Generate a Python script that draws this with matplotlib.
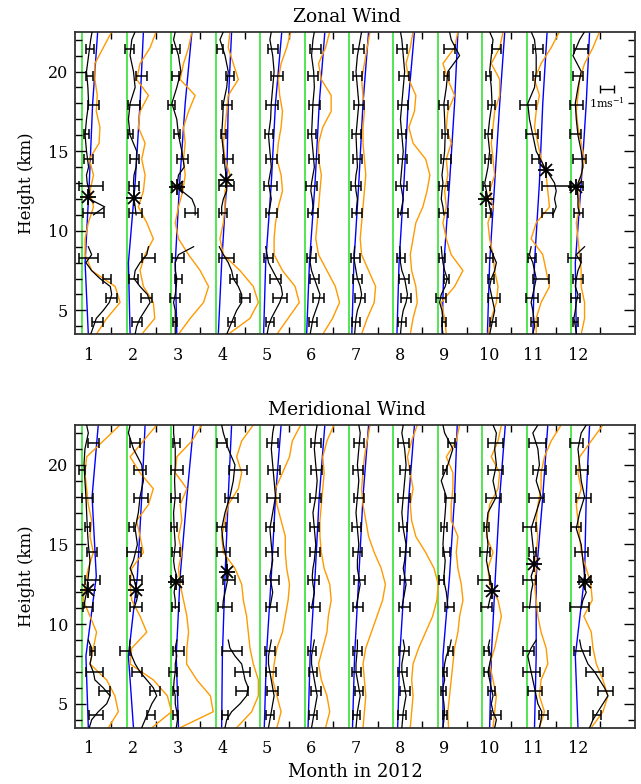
import numpy as np
import matplotlib
matplotlib.use('Agg')
import matplotlib.pyplot as plt

plt.rcParams['font.family'] = ['DejaVu Serif']
plt.rcParams['mathtext.fontset'] = 'dejavuserif'

MONTHS = list(range(1, 13))
MONTH_LABELS = [str(m) for m in MONTHS]
ERR_H = [4.3, 5.8, 7.0, 8.3, 11.1, 12.8, 14.5, 16.1, 17.9, 19.7, 21.4]
STRAT_H = [11, 11.5, 12, 12.5, 13, 13.5, 14, 15, 16, 17, 18, 19, 20, 21, 22, 22.5]
TROP_H = [3.5, 4, 4.5, 5, 5.5, 6, 6.5, 7, 7.5, 8, 8.5, 9]
ORANGE_H = [3.5, 4.5, 5.5, 6.5, 7.5, 8.5, 9.5, 10.5, 11.5, 12.5, 13.5, 14.5, 15.5, 16.5, 17.5, 18.5, 19.5, 20.5, 21.5, 22.5]
BLUE_H = [3.5, 8, 13, 18, 22.5]

# ---------------- Zonal wind (m/s, offset from each month's zero line) ----------------
ZON_STRAT = [
    [0.8, 1.6, 0.5, 0.5, 0.35, 0.3, 0.45, 0.3, 0.2, 0.3, 0.45, 0.4, 0.3, 0.45, 0.6, 0.7],
    [0.67, 0.6, 0.52, 0.52, 0.48, 0.52, 0.67, 0.71, 0.24, 0.12, 0.24, 0.6, 0.48, 0.24, 0.36, 0.6],
    [1.71, 1.71, 1.48, 0.76, 0.45, 0.52, 0.93, 0.76, 0.52, 0.4, 0.05, 0.4, 0.69, 0.52, 0.17, 0.29],
    [0.43, 0.43, 0.55, 0.79, 0.79, 0.74, 0.67, 0.55, 0.43, 0.5, 0.55, 0.79, 0.9, 0.67, 0.31, 0.55],
    [0.6, 0.7, 0.8, 0.7, 0.6, 0.7, 0.8, 0.7, 0.6, 0.75, 0.8, 0.9, 1.0, 0.9, 0.7, 0.8],
    [0.5, 0.6, 0.55, 0.45, 0.5, 0.6, 0.7, 0.6, 0.5, 0.55, 0.6, 0.7, 0.65, 0.5, 0.6, 0.7],
    [0.5, 0.55, 0.6, 0.5, 0.45, 0.5, 0.6, 0.55, 0.5, 0.6, 0.7, 0.6, 0.5, 0.6, 0.8, 0.9],
    [0.5, 0.6, 0.7, 0.6, 0.5, 0.55, 0.6, 0.7, 0.6, 0.5, 0.6, 0.7, 0.8, 0.7, 0.6, 0.5],
    [0.43, 0.36, 0.24, 0.29, 0.36, 0.29, 0.36, 0.48, 0.52, 0.48, 0.43, 0.6, 0.71, 1.55, 0.95, 0.83],
    [0.64, 0.52, 0.4, 0.29, 0.17, 0.29, 0.4, 0.52, 0.4, 0.52, 0.69, 0.64, 0.52, 0.64, 0.76, 0.52],
    [1.86, 2.1, 1.98, 2.1, 1.98, 1.62, 1.26, 0.67, 0.43, 0.19, 0.07, 0.55, 0.67, 0.67, 0.55, 0.31],
    [0.6, 0.48, 0.48, 0.43, 0.48, 0.71, 0.83, 0.71, 0.48, 0.36, 0.29, 0.48, 0.71, 0.12, 0.6, 0.95],
]
ZON_TROP = [
    [0.6, 0.8, 1.0, 1.5, 1.93, 2.1, 2.0, 1.26, 0.67, 0.26, 0.67, 0.43],
    [0.6, 0.71, 0.95, 1.31, 1.67, 1.48, 0.95, 0.52, 0.6, 0.95, 1.43, 1.55],
    [0.29, 0.29, 0.29, 0.29, 0.17, 0.29, 0.36, 0.4, 0.29, 0.29, 0.52, 1.6],
    [0.79, 1.02, 1.26, 1.5, 1.86, 1.86, 1.62, 1.26, 1.14, 0.9, 0.55, 0.26],
    [0.5, 0.6, 0.8, 1.1, 1.4, 1.6, 1.5, 1.2, 0.9, 0.6, 0.5, 0.4],
    [0.4, 0.5, 0.6, 0.8, 1.0, 1.1, 0.9, 0.7, 0.5, 0.4, 0.45, 0.5],
    [0.4, 0.45, 0.5, 0.6, 0.8, 0.9, 0.8, 0.6, 0.5, 0.4, 0.35, 0.4],
    [0.5, 0.55, 0.6, 0.7, 0.9, 1.0, 0.9, 0.8, 0.6, 0.5, 0.5, 0.45],
    [0.36, 0.29, 0.36, 0.29, 0.12, 0.24, 0.52, 0.67, 0.48, 0.36, 0.29, 0.24],
    [0.52, 0.64, 0.76, 0.88, 0.76, 0.64, 0.52, 0.64, 0.88, 1.0, 0.76, 0.52],
    [0.43, 0.55, 0.5, 0.43, 0.31, 0.43, 0.55, 0.67, 0.55, 0.43, 0.19, 0.31],
    [0.36, 0.29, 0.19, 0.29, 0.36, 0.48, 0.29, 0.36, 0.48, 0.71, 0.36, 0.95],
]
ZON_ORANGE = [
    [1.0, 1.75, 2.7, 2.35, 0.67, 0.2, 0.2, 0.43, 0.8, 0.55, 0.8, 0.5, 1.2, 1.26, 1.0, 1.07, 0.9, 0.9, 1.5, 2.1],
    [1.07, 2.0, 1.9, 1.19, 0.95, 1.31, 1.9, 1.43, 0.83, 1.19, 1.31, 1.07, 1.31, 0.83, 0.95, 1.55, 0.71, 0.95, 1.67, 2.1],
    [0.52, 1.36, 2.31, 2.67, 2.07, 1.24, 0.52, 0.29, 0.52, 0.83, 1.0, 0.88, 1.0, 0.88, 1.24, 1.71, 0.64, 0.88, 1.24, 1.48],
    [0.9, 2.45, 3.05, 2.69, 1.74, 0.55, 0.31, 0.55, 0.67, 0.67, 1.02, 0.67, 0.55, 0.67, 0.79, 0.9, 1.62, 1.26, 0.9, 1.02],
    [1.2, 2.0, 2.8, 2.5, 1.6, 1.0, 1.0, 1.1, 1.3, 1.6, 1.5, 1.2, 1.3, 1.5, 1.6, 1.4, 1.3, 1.5, 1.9, 2.2],
    [1.3, 2.0, 2.5, 2.2, 1.6, 1.0, 0.8, 0.9, 1.0, 1.1, 1.2, 1.0, 1.0, 1.3, 1.9, 1.9, 1.2, 1.0, 1.5, 1.8],
    [0.9, 1.3, 1.8, 1.9, 1.4, 0.9, 0.8, 0.9, 1.0, 1.1, 1.2, 1.1, 1.0, 1.0, 1.1, 1.0, 0.9, 1.1, 1.3, 1.5],
    [1.2, 1.4, 1.7, 1.6, 1.3, 1.2, 1.4, 1.6, 2.1, 2.4, 2.6, 2.3, 1.4, 1.1, 1.5, 1.6, 1.1, 0.9, 1.2, 1.4],
    [0.6, 0.48, 0.24, 1.19, 1.79, 0.95, 0.6, 0.36, 0.6, 0.48, 0.71, 0.6, 0.95, 0.6, 0.71, 1.19, 0.71, 0.36, 1.19, 1.43],
    [0.4, 0.64, 1.0, 1.12, 0.88, 0.76, 0.52, 0.4, 0.76, 0.52, 0.88, 0.76, 0.64, 0.76, 0.88, 1.24, 1.24, 0.64, 1.24, 1.48],
    [0.67, 0.67, 1.02, 1.62, 1.38, 1.14, 0.31, 0.67, 1.62, 1.5, 1.38, 1.02, 0.79, 0.55, 0.67, 0.9, 0.55, 1.02, 1.74, 2.33],
    [0.71, 0.95, 0.95, 0.71, 0.71, 0.6, 0.48, 0.36, 0.6, 0.48, 0.71, 0.95, 0.71, 0.48, 0.36, 0.48, 0.6, 0.95, 1.55, 2.02],
]
ZON_BLUE = [
    [0.43, 0.2, 0.5, 0.74, 1.1], [0.24, 0.12, 0.6, 0.95, 1.19], [0.4, 0.29, 0.6, 1.0, 1.48],
    [0.19, 0.43, 0.79, 0.9, 1.14], [0.25, 0.4, 0.8, 1.1, 1.55], [0.15, 0.35, 0.75, 1.05, 1.45],
    [0.2, 0.35, 0.7, 1.0, 1.4], [0.25, 0.4, 0.75, 1.05, 1.5], [0.29, 0.43, 0.83, 1.19, 1.43],
    [0.36, 0.52, 0.88, 1.24, 1.6], [0.43, 0.55, 0.9, 1.14, 1.45], [0.36, 0.29, 0.71, 1.07, 1.31],
]
ZON_ERR_C = [
    [1.1, 2.1, 1.76, 0.43, 0.83, 0.62, 0.45, 0.31, 0.8, 0.5, 0.55],
    [0.71, 1.43, 0.48, 1.55, 0.62, 0.52, 0.57, 0.26, 0.52, 1.07, 0.19],
    [0.29, 0.29, 0.5, 0.48, 1.43, 0.4, 0.81, 0.43, 0.05, 0.33, 0.36],
    [1.14, 2.1, 1.26, 0.79, 0.5, 0.79, 0.86, 0.55, 0.79, 1.02, 0.33],
    [0.7, 1.4, 1.1, 0.6, 0.8, 0.75, 0.8, 0.65, 0.85, 1.2, 0.9],
    [0.6, 1.0, 0.7, 0.5, 0.6, 0.5, 0.65, 0.55, 0.7, 0.6, 0.8],
    [0.5, 0.8, 0.6, 0.45, 0.55, 0.5, 0.6, 0.55, 0.7, 0.6, 0.7],
    [0.6, 0.9, 0.75, 0.55, 0.7, 0.6, 0.65, 0.6, 0.7, 0.75, 0.6],
    [0.43, 0.24, 0.64, 0.31, 0.43, 0.4, 0.6, 0.5, 0.38, 0.6, 0.83],
    [0.76, 0.81, 0.62, 0.52, 0.45, 0.29, 0.4, 0.43, 0.64, 0.45, 1.02],
    [0.55, 0.38, 1.02, 0.38, 1.45, 2.05, 0.6, 0.38, 0.1, 0.71, 0.79],
    [0.29, 0.29, 0.48, 0.24, 0.52, 0.38, 0.6, 0.29, 0.36, 0.48, 0.67],
]
ZON_ERR_W = [
    [0.4, 0.4, 0.3, 0.7, 0.75, 0.85, 0.3, 0.2, 0.4, 0.25, 0.3],
    [0.35, 0.4, 0.35, 0.48, 0.45, 0.36, 0.33, 0.2, 0.4, 0.4, 0.3],
    [0.15, 0.35, 0.25, 0.4, 0.45, 0.35, 0.4, 0.2, 0.25, 0.25, 0.3],
    [0.25, 0.35, 0.25, 0.55, 0.28, 0.55, 0.35, 0.2, 0.35, 0.3, 0.2],
    [0.3, 0.5, 0.4, 0.35, 0.4, 0.45, 0.4, 0.3, 0.4, 0.45, 0.35],
    [0.3, 0.4, 0.3, 0.3, 0.35, 0.4, 0.35, 0.3, 0.4, 0.35, 0.4],
    [0.3, 0.35, 0.3, 0.3, 0.35, 0.35, 0.3, 0.3, 0.35, 0.3, 0.4],
    [0.3, 0.35, 0.35, 0.3, 0.35, 0.4, 0.35, 0.3, 0.35, 0.35, 0.35],
    [0.15, 0.36, 0.18, 0.2, 0.32, 0.3, 0.36, 0.2, 0.33, 0.17, 0.36],
    [0.24, 0.42, 0.2, 0.24, 0.18, 0.24, 0.24, 0.26, 0.24, 0.18, 0.33],
    [0.24, 0.44, 0.6, 0.27, 0.4, 1.0, 0.24, 0.44, 0.57, 0.24, 0.36],
    [0.18, 0.3, 0.35, 0.48, 0.3, 0.43, 0.45, 0.4, 0.45, 0.35, 0.5],
]
ZON_STAR_H = [12.1, 12.06, 12.75, 13.2, None, None, None, None, None, 12.0, 13.8, 12.75]
ZON_STAR_V = [0.43, 0.52, 0.4, 0.74, None, None, None, None, None, 0.29, 1.38, 0.36]

# ---------------- Meridional wind ----------------
MER_STRAT = [
    [0.12, 0.19, 0.31, 0.36, 0.43, 0.5, 0.55, 0.43, 0.36, 0.31, 0.26, 0.19, 0.12, 0.19, 0.43, 0.31],
    [0.52, 0.71, 0.83, 0.6, 0.48, 0.24, 0.48, 0.76, 0.6, 0.83, 0.95, 1.19, 1.07, 0.48, 0.12, 0.24],
    [0.29, 0.29, 0.21, 0.29, 0.4, 0.24, 0.17, 0.29, 0.21, 0.17, 0.29, 0.24, 0.29, 0.29, 0.17, 0.17],
    [0.5, 0.55, 0.67, 0.79, 0.9, 0.8, 0.79, 0.55, 0.43, 0.67, 1.02, 1.26, 1.38, 0.9, 0.55, 0.43],
    [0.7, 0.8, 0.9, 0.8, 0.7, 0.8, 0.9, 0.8, 0.7, 0.9, 1.1, 1.0, 0.9, 0.8, 0.9, 1.0],
    [0.5, 0.6, 0.7, 0.6, 0.55, 0.6, 0.7, 0.8, 0.7, 0.6, 0.8, 0.9, 0.8, 0.7, 0.8, 0.9],
    [0.5, 0.6, 0.7, 0.8, 0.7, 0.6, 0.6, 0.7, 0.6, 0.5, 0.6, 0.7, 0.6, 0.7, 0.8, 0.7],
    [0.6, 0.7, 0.8, 0.9, 0.8, 0.7, 0.8, 0.9, 0.7, 0.6, 0.7, 0.8, 0.9, 0.8, 0.6, 0.7],
    [0.71, 0.67, 0.6, 0.48, 0.43, 0.48, 0.52, 0.36, 0.43, 0.52, 0.6, 0.24, 0.71, 1.07, 0.48, 0.36],
    [0.4, 0.52, 0.69, 0.64, 0.52, 0.4, 0.29, 0.4, 0.29, 0.4, 1.0, 0.76, 1.0, 0.88, 1.0, 0.76],
    [0.19, 0.26, 0.31, 0.43, 0.31, 0.5, 0.55, 0.43, 0.31, 0.67, 1.02, 0.67, 0.9, 0.79, 0.43, 0.79],
    [0.71, 0.83, 1.07, 0.83, 0.95, 0.9, 0.83, 0.71, 0.36, 0.6, 0.95, 0.71, 0.6, 0.48, 0.71, 1.07],
]
MER_TROP = [
    [0.5, 0.67, 1.14, 1.74, 1.98, 1.5, 0.9, 0.79, 0.55, 0.67, 0.67, 0.43],
    [1.07, 1.31, 1.55, 1.79, 2.14, 1.9, 1.43, 0.95, 0.6, 0.36, 0.19, 0.24],
    [0.36, 0.45, 0.4, 0.29, 0.29, 0.17, 0.21, 0.29, 0.29, 0.4, 0.29, 0.4],
    [0.67, 0.79, 1.14, 1.74, 2.21, 2.33, 2.1, 1.98, 1.86, 1.38, 1.02, 0.9],
    [0.6, 0.7, 0.8, 0.9, 1.0, 0.9, 0.8, 0.7, 0.6, 0.6, 0.7, 0.8],
    [0.5, 0.6, 0.7, 0.8, 0.9, 0.8, 0.7, 0.6, 0.5, 0.5, 0.6, 0.7],
    [0.5, 0.55, 0.6, 0.7, 0.8, 0.7, 0.6, 0.5, 0.5, 0.55, 0.6, 0.6],
    [0.6, 0.65, 0.7, 0.8, 0.9, 0.8, 0.7, 0.6, 0.6, 0.7, 0.8, 0.7],
    [0.36, 0.43, 0.48, 0.43, 0.36, 0.36, 0.48, 0.43, 0.48, 0.6, 0.83, 0.95],
    [0.88, 1.0, 0.76, 0.64, 0.76, 0.64, 0.52, 0.4, 0.52, 0.64, 0.4, 0.52],
    [0.9, 1.02, 1.07, 0.79, 0.67, 0.55, 0.43, 0.31, 0.19, 0.07, 0.31, 0.67],
    [1.31, 1.55, 1.9, 2.26, 2.62, 2.38, 2.02, 1.67, 1.19, 0.95, 0.71, 0.6],
]
MER_ORANGE = [
    [1.86, 2.57, 2.33, 1.74, 0.55, 0.79, 1.02, 0.55, 0.07, 0.19, 0.43, 0.79, 0.55, 0.67, 0.43, 0.31, 0.19, 0.31, 1.5, 2.69],
    [1.8, 3.2, 2.9, 1.9, 0.24, 0.36, 1.43, 0.95, 0.36, 0.24, 0.36, 1.19, 0.95, 0.71, 1.55, 1.9, 0.95, 0.24, 1.19, 2.14],
    [0.64, 3.0, 2.8, 1.83, 1.1, 1.12, 1.24, 1.12, 0.88, 0.64, 0.52, 0.76, 0.52, 0.76, 0.64, 1.12, 0.29, 0.4, 1.48, 2.19],
    [1.5, 2.57, 3.05, 3.05, 2.69, 2.45, 2.33, 2.21, 1.98, 1.86, 1.38, 0.55, 0.43, 0.67, 0.9, 1.62, 1.86, 1.5, 1.86, 2.69],
    [1.2, 1.5, 1.2, 0.9, 1.0, 1.2, 1.6, 1.8, 2.0, 2.1, 1.9, 1.8, 1.8, 1.5, 1.2, 1.1, 1.6, 2.1, 2.3, 2.9],
    [1.5, 1.8, 1.6, 1.2, 1.0, 1.3, 1.6, 1.7, 1.9, 1.8, 1.4, 1.2, 1.1, 1.1, 1.2, 1.3, 1.4, 1.3, 1.6, 2.1],
    [1.0, 1.1, 1.2, 1.1, 1.0, 1.2, 1.6, 2.0, 2.4, 2.6, 2.3, 1.8, 1.4, 1.2, 1.0, 0.9, 1.0, 1.1, 1.3, 1.5],
    [1.2, 1.3, 1.4, 1.3, 1.4, 1.8, 2.3, 2.8, 3.1, 3.2, 2.9, 2.3, 1.6, 1.3, 1.2, 1.4, 1.2, 1.0, 1.3, 1.7],
    [0.76, 0.71, 0.83, 0.95, 1.07, 1.19, 1.43, 1.55, 1.79, 1.67, 1.43, 1.31, 1.43, 0.95, 0.95, 1.07, 1.07, 0.6, 1.31, 1.55],
    [0.76, 0.88, 1.0, 0.76, 0.52, 0.88, 1.12, 1.36, 1.12, 0.52, 0.4, 0.76, 0.29, 0.4, 0.52, 1.12, 1.24, 0.64, 1.12, 1.36],
    [0.9, 1.26, 0.9, 1.02, 1.5, 1.38, 1.02, 0.79, 0.67, 0.55, 0.67, 0.67, 0.79, 0.67, 0.79, 1.02, 1.02, 1.26, 1.74, 2.45],
    [1.43, 2.26, 2.62, 2.26, 1.79, 1.55, 1.43, 0.9, 1.5, 1.4, 1.07, 0.71, 0.6, 0.48, 0.36, 0.71, 0.48, 0.6, 1.43, 2.26],
]
MER_BLUE = [
    [0.43, 0.26, 1.0, 0.7, 1.14], [0.48, 0.12, 0.76, 1.07, 1.31], [0.52, 0.36, 0.64, 1.12, 1.6],
    [0.43, 0.48, 0.67, 0.9, 1.14], [0.3, 0.45, 0.8, 1.1, 1.5], [0.25, 0.4, 0.75, 1.05, 1.45],
    [0.25, 0.4, 0.7, 1.0, 1.4], [0.3, 0.45, 0.8, 1.1, 1.5], [0.36, 0.36, 0.83, 1.19, 1.38],
    [0.52, 0.64, 0.93, 1.24, 1.64], [0.55, 0.67, 0.67, 1.14, 1.5], [0.48, 0.29, 0.95, 1.07, 1.31],
]
MER_ERR_C = [
    [1.0, 1.6, 0.88, 0.71, 0.43, 0.74, 0.69, 0.36, 0.36, -0.02, 0.81],
    [1.74, 2.02, 0.71, -0.12, 0.67, 0.67, 0.55, 0.36, 1.02, 0.95, 0.6],
    [0.33, 0.31, 0.12, 0.52, 0.33, 0.4, 0.36, 0.19, 0.33, 0.4, 0.38],
    [0.67, 1.9, 1.9, 1.14, 0.67, 0.98, 0.57, 0.43, 1.14, 1.6, 0.43],
    [0.7, 0.9, 0.8, 0.7, 0.8, 0.9, 0.85, 0.7, 0.95, 1.0, 0.9],
    [0.6, 0.8, 0.6, 0.55, 0.7, 0.65, 0.75, 0.7, 0.8, 0.85, 0.8],
    [0.55, 0.7, 0.55, 0.6, 0.65, 0.75, 0.6, 0.55, 0.7, 0.65, 0.7],
    [0.6, 0.85, 0.65, 0.75, 0.8, 0.85, 0.8, 0.7, 0.75, 0.8, 0.7],
    [0.5, 0.4, 0.5, 0.9, 0.83, 0.29, 0.62, 0.45, 0.88, 0.5, 0.95],
    [0.98, 0.64, 0.31, 0.31, 0.29, 0.12, 0.17, 0.33, 0.81, 0.93, 0.93],
    [1.19, 0.62, 0.31, 0.14, 0.31, 0.19, 0.43, 0.19, 0.71, 0.9, 0.79],
    [1.83, 2.43, 1.67, 0.74, 0.62, 0.98, 0.74, 0.31, 0.9, 0.79, 0.36],
]
MER_ERR_W = [
    [0.5, 0.38, 0.62, 0.18, 0.36, 0.55, 0.38, 0.18, 0.4, 0.2, 0.4],
    [0.27, 0.36, 0.36, 0.36, 0.42, 0.42, 0.5, 0.18, 0.5, 0.43, 0.36],
    [0.18, 0.2, 0.3, 0.36, 0.24, 0.42, 0.27, 0.2, 0.32, 0.42, 0.26],
    [0.24, 0.42, 0.54, 0.72, 0.48, 0.42, 0.45, 0.3, 0.48, 0.62, 0.36],
    [0.3, 0.4, 0.35, 0.35, 0.4, 0.45, 0.4, 0.3, 0.45, 0.4, 0.4],
    [0.3, 0.35, 0.3, 0.3, 0.4, 0.4, 0.35, 0.3, 0.4, 0.4, 0.35],
    [0.25, 0.3, 0.3, 0.3, 0.35, 0.4, 0.3, 0.3, 0.35, 0.35, 0.35],
    [0.3, 0.35, 0.3, 0.35, 0.4, 0.4, 0.35, 0.3, 0.4, 0.35, 0.4],
    [0.15, 0.18, 0.15, 0.15, 0.3, 0.18, 0.27, 0.2, 0.36, 0.15, 0.24],
    [0.33, 0.24, 0.2, 0.2, 0.4, 0.4, 0.36, 0.18, 0.53, 0.53, 0.53],
    [0.3, 0.5, 0.6, 0.4, 0.6, 0.48, 0.24, 0.48, 0.53, 0.48, 0.6],
    [0.3, 0.54, 0.6, 0.57, 0.68, 0.45, 0.45, 0.36, 0.53, 0.42, 0.48],
]
MER_STAR_H = [12.14, 12.14, 12.67, 13.3, None, None, None, None, None, 12.08, 13.8, 12.67]
MER_STAR_V = [0.38, 0.67, 0.36, 0.79, None, None, None, None, None, 0.69, 0.5, 0.95]

SCALE_BAR_MS = 1.0

# ---------------- style / layout ----------------
MS_TO_MONTH = 0.315      # 1 m/s in x-axis (month) units
ZERO_OFFSET = -0.151     # zero line of each profile relative to its month label
XLIM = (0.685, 13.283)
YLIM = (3.5, 22.5)
GREEN = '#22E022'
BLUE = '#0000FF'
ORANGE = '#FF9A00'
FS = 11.5


def draw_panel(ax, strat, trop, orange, blue, errc, errw, star_h, star_v):
    for i, m in enumerate(MONTHS):
        x0 = m + ZERO_OFFSET
        ax.axvline(x0, color=GREEN, lw=1.1, zorder=1)
        ax.plot(x0 + np.array(blue[i]) * MS_TO_MONTH, BLUE_H, color=BLUE, lw=1.0, zorder=2)
        ax.plot(x0 + np.array(orange[i]) * MS_TO_MONTH, ORANGE_H, color=ORANGE, lw=1.0, zorder=2)
        ax.plot(x0 + np.array(trop[i]) * MS_TO_MONTH, TROP_H, color='k', lw=0.9, zorder=3)
        ax.plot(x0 + np.array(strat[i]) * MS_TO_MONTH, STRAT_H, color='k', lw=0.9, zorder=3)
        ax.errorbar(x0 + np.array(errc[i]) * MS_TO_MONTH, ERR_H,
                    xerr=np.array(errw[i]) * MS_TO_MONTH, fmt='none', ecolor='k',
                    elinewidth=1.1, capsize=3.5, capthick=1.1, zorder=4)
        if star_h[i] is not None:
            sx = x0 + star_v[i] * MS_TO_MONTH
            ax.plot([sx], [star_h[i]], marker='+', color='k', ms=11, mew=1.3, zorder=5)
            ax.plot([sx], [star_h[i]], marker='x', color='k', ms=8, mew=1.3, zorder=5)
    ax.set_xlim(*XLIM)
    ax.set_ylim(*YLIM)
    ax.set_xticks(MONTHS)
    ax.set_xticklabels(MONTH_LABELS)
    ax.set_xticks(np.arange(1.5, 13.0, 1.0), minor=True)
    ax.set_yticks([5, 10, 15, 20])
    ax.set_yticks(np.arange(4, 23, 1), minor=True)
    ax.tick_params(axis='x', which='major', length=0, pad=9, labelsize=FS)
    ax.tick_params(axis='x', which='minor', length=5, width=1, direction='in', top=True, bottom=True)
    ax.tick_params(axis='y', which='major', length=8, width=1, direction='in', left=True, right=True,
                   labelsize=FS, pad=5)
    ax.tick_params(axis='y', which='minor', length=5, width=1, direction='in', left=True, right=True)
    for sp in ax.spines.values():
        sp.set_linewidth(1.3)
        sp.set_color('#333333')
    ax.set_ylabel('Height (km)', fontsize=FS + 0.5, labelpad=9)


fig = plt.figure(figsize=(6.41, 7.84), dpi=100)
ax1 = fig.add_axes([75 / 641, 1 - 334.3 / 784, 560 / 641, 302.6 / 784])
ax2 = fig.add_axes([75 / 641, 1 - 727.7 / 784, 560 / 641, 302.7 / 784])

draw_panel(ax1, ZON_STRAT, ZON_TROP, ZON_ORANGE, ZON_BLUE, ZON_ERR_C, ZON_ERR_W, ZON_STAR_H, ZON_STAR_V)
draw_panel(ax2, MER_STRAT, MER_TROP, MER_ORANGE, MER_BLUE, MER_ERR_C, MER_ERR_W, MER_STAR_H, MER_STAR_V)

# scale bar (1 m/s)
ax1.errorbar([12.65], [18.9], xerr=[SCALE_BAR_MS / 2 * MS_TO_MONTH], fmt='none', ecolor='k',
             elinewidth=1.0, capsize=3, capthick=1.0)
ax1.text(12.65, 18.05, '1ms$^{-1}$', ha='center', va='center', fontsize=8)

fig.text(347 / 641, 1 - 17 / 784, 'Zonal Wind', ha='center', va='center', fontsize=13.5)
fig.text(347 / 641, 1 - 410 / 784, 'Meridional Wind', ha='center', va='center', fontsize=13.5)
fig.text(355 / 641, 1 - 772 / 784, 'Month in 2012', ha='center', va='center', fontsize=13)

fig.savefig('out.png', dpi=100)
